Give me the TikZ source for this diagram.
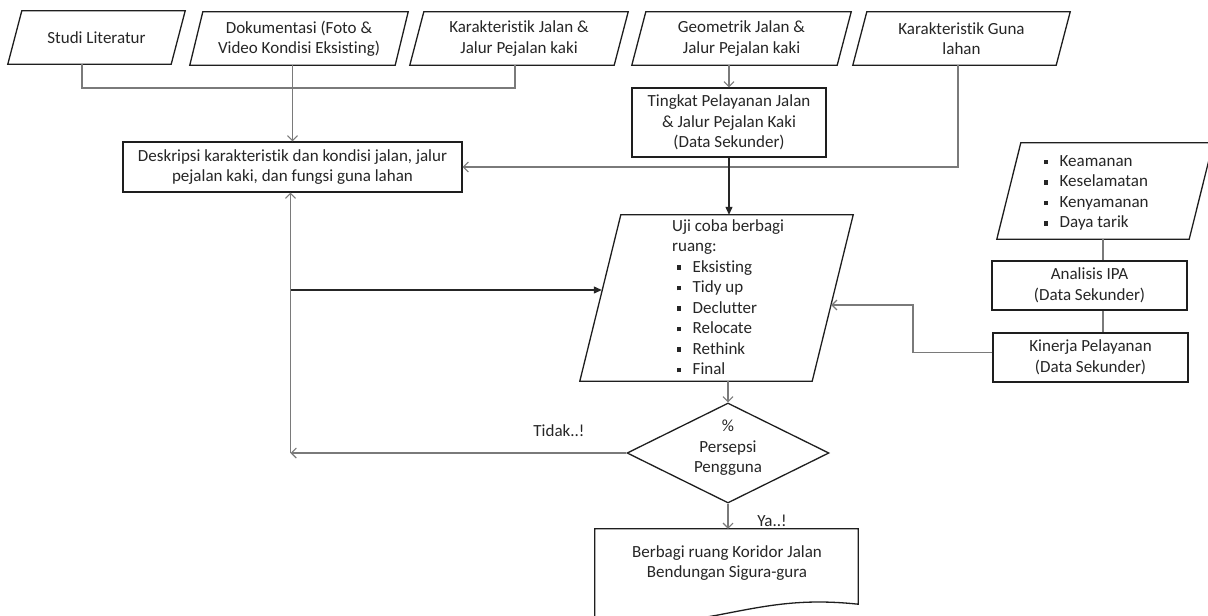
\documentclass[tikz,border=0pt]{standalone}
\usepackage{fontspec}
\setmainfont{Carlito}[Ligatures=NoCommon]
\usetikzlibrary{arrows.meta,calc,shapes.geometric}
\definecolor{txt}{HTML}{262626}
\definecolor{edgec}{HTML}{1E1E1E}
\definecolor{connc}{HTML}{7A7A7A}
\newcommand{\bulx}{\hspace*{4.5pt}\rule[2.2pt]{4.5pt}{4.5pt}\hspace*{11.5pt}}
\newcommand{\pgram}[2]{\draw[shp] (#1.south west) -- ([xshift=#2]#1.north west) -- (#1.north east) -- ([xshift=-#2]#1.south east) -- cycle;}
\begin{document}
\begin{tikzpicture}[x=1pt,y=-1pt,
  every node/.style={font=\fontsize{17}{20.5}\selectfont, text=txt},
  shp/.style={draw=edgec, line width=1.3pt},
  para/.style={rectangle, inner sep=0pt, align=center},
  box/.style={shp, rectangle, inner sep=0pt, align=center},
  ln/.style={draw=connc, line width=1.1pt},
  arr/.style={ln, -{Straight Barb[length=5pt,width=10pt]}},
  arrb/.style={draw=black!85, line width=1.2pt, -{Triangle[length=8pt,width=7pt]}},
]
\useasboundingbox (0,0) rectangle (1208,616);
\fill[white] (0,0) rectangle (1208,616);
\clip (0,0) rectangle (1208,616);

% top row
\node[para, minimum width=177pt, minimum height=53pt] (studi) at (96.5,37.5) {Studi Literatur};
\node[para, minimum width=218pt, minimum height=53pt] (doku) at (299,38.5) {Dokumentasi (Foto \&\\Video Kondisi Eksisting)};
\node[para, minimum width=218pt, minimum height=53pt] (kj) at (519,38.5) {Karakteristik Jalan \&\\Jalur Pejalan kaki};
\node[para, minimum width=219pt, minimum height=53pt] (geo) at (741.5,38.5) {Geometrik Jalan \&\\Jalur Pejalan kaki};
\node[para, minimum width=217pt, minimum height=53pt] (guna) at (961.5,38.5) {Karakteristik Guna\\lahan};
\pgram{studi}{14pt}
\pgram{doku}{13pt}
\pgram{kj}{14pt}
\pgram{geo}{14pt}
\pgram{guna}{14pt}

% boxes
\node[box, minimum width=339pt, minimum height=50pt] (desk) at (292.5,167) {Deskripsi karakteristik dan kondisi jalan, jalur\\pejalan kaki, dan fungsi guna lahan};
\node[box, minimum width=194pt, minimum height=69pt] (ting) at (729,122.5) {Tingkat Pelayanan Jalan\\\& Jalur Pejalan Kaki\\(Data Sekunder)};

% uji coba
\node[para, minimum width=273pt, minimum height=166pt] (uji) at (716.5,298) {};
\pgram{uji}{41pt}
\node[anchor=west, align=left, inner sep=0pt] (ujit) at (672,297) {Uji coba berbagi\\ruang:\\\bulx Eksisting\\\bulx Tidy up\\\bulx Declutter\\\bulx Relocate\\\bulx Rethink\\\bulx Final};

% right column
\node[para, minimum width=216pt, minimum height=96pt] (kea) at (1105,191) {};
\pgram{kea}{24pt}
\node[anchor=west, align=left, inner sep=0pt] (keat) at (1039,193) {\bulx Keamanan\\\bulx Keselamatan\\\bulx Kenyamanan\\\bulx Daya tarik};
\node[box, minimum width=195pt, minimum height=49pt] (ana) at (1089.5,285.5) {Analisis IPA\\(Data Sekunder)};
\node[box, minimum width=195pt, minimum height=49pt] (kin) at (1090.5,357.5) {Kinerja Pelayanan\\(Data Sekunder)};

% decision
\node[diamond, shp, minimum width=202pt, minimum height=100pt, inner sep=0pt] (dia) at (728,453) {};
\node[align=center, inner sep=0pt] (diat) at (728,448) {\%\\Persepsi\\Pengguna};

% document
\node[minimum width=263pt, minimum height=87pt, inner sep=0pt] (docu) at (726.5,572.5) {};
\draw[shp] ([yshift=-12pt]docu.south west) -- (docu.north west) -- (docu.north east) -- ([yshift=12pt]docu.south east)
  .. controls (800,598) and (765,606) .. (718,615) .. controls (680,622) and (640,626) .. ([yshift=-12pt]docu.south west);
\node[align=center, inner sep=0pt] (docut) at (727,563) {Berbagi ruang Koridor Jalan\\Bendungan Sigura-gura};

% labels
\node (tidak) at (559,431) {Tidak..!};
\node (ya) at (772,521) {Ya..!};

% connectors
\coordinate (j1) at (293,88);
\draw[ln] ([xshift=-14.5pt]studi.south) |- (j1) -| ([xshift=-4pt]kj.south);
\draw[arr] (desk.north |- doku.south) -- (desk.north);
\draw[arr] ([xshift=-3.5pt]guna.south) |- (desk.east);
\draw[arr] (ting.north |- geo.south) -- (ting.north);
\draw[arrb] (ting.south) -- (ting.south |- uji.north);
\draw[arr] (dia.north |- uji.south) -- (dia.north);
\coordinate (tk) at (290.5,453);
\coordinate (tj) at (290.5,290);
\draw[arr] (dia.west) -- (tk);
\draw[arr] (tk) -- (tk |- desk.south);
\draw[arrb] (tj) -- ($(tj -| uji.west)+(22,0)$);
\coordinate (k1) at (913,305);
\draw[arr] ([yshift=5pt]kin.west) -| (k1) -- ($(k1 -| uji.east)+(-22,0)$);
\coordinate (kx) at ($(kea.south)+(-2,0)$);
\draw[ln] (kx) -- (kx |- ana.north);
\draw[ln] (kx |- ana.south) -- (kx |- kin.north);
\draw[arr] (dia.south) -- (dia.south |- docu.north);
\end{tikzpicture}
\end{document}
